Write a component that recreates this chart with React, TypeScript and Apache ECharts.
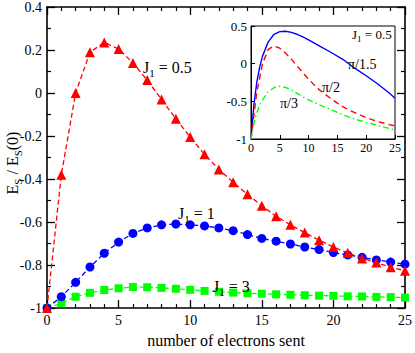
import React, { useEffect, useRef } from 'react';
import * as echarts from 'echarts';

// Main panel: E_S / E_S(0) vs number of electrons sent
const electrons = [0, 1, 2, 3, 4, 5, 6, 7, 8, 9, 10, 11, 12, 13, 14, 15, 16, 17, 18, 19, 20, 21, 22, 23, 24, 25];
const j05 = [-1, -0.38, 0.0, 0.19, 0.235, 0.205, 0.14, 0.06, -0.03, -0.12, -0.205, -0.285, -0.355, -0.415, -0.471, -0.524, -0.573, -0.613, -0.649, -0.684, -0.716, -0.743, -0.769, -0.788, -0.81, -0.826];
const j1 = [-1, -0.947, -0.88, -0.809, -0.745, -0.693, -0.653, -0.627, -0.613, -0.609, -0.613, -0.618, -0.627, -0.64, -0.658, -0.676, -0.689, -0.702, -0.716, -0.728, -0.742, -0.753, -0.764, -0.776, -0.786, -0.796];
const j3 = [-1, -0.978, -0.947, -0.929, -0.916, -0.908, -0.902, -0.903, -0.906, -0.91, -0.915, -0.92, -0.924, -0.928, -0.931, -0.933, -0.936, -0.938, -0.94, -0.942, -0.943, -0.945, -0.946, -0.948, -0.949, -0.951];

// Inset: J1 = 0.5 for several angles
const insetX = [0, 0.5, 1, 1.5, 2, 3, 4, 5, 6, 7, 8, 9, 10, 12, 14, 16, 18, 20, 22, 24, 25];
const pi15 = [-1, -0.55, -0.25, -0.05, 0.1, 0.29, 0.39, 0.425, 0.43, 0.415, 0.39, 0.355, 0.315, 0.23, 0.145, 0.055, -0.06, -0.16, -0.27, -0.39, -0.46];
const pi3 = [-1, -0.8, -0.65, -0.55, -0.48, -0.37, -0.32, -0.3, -0.315, -0.35, -0.395, -0.44, -0.48, -0.55, -0.615, -0.68, -0.735, -0.78, -0.82, -0.86, -0.88];

const mainXTicks = [0, 5, 10, 15, 20, 25];
const mainYTicks = [-1, -0.8, -0.6, -0.4, -0.2, 0, 0.2, 0.4];

const FONT = 'Liberation Serif';
const RED = '#ff0000';
const BLUE = '#0000ff';
const GREEN = '#00ff00';

const pairs = (xs: number[], ys: number[]) => xs.map((x, i) => [x, ys[i]]);
const fmt = (v: number) => String(Math.round(v * 10) / 10);

const richText = (text: string, size: number) => ({
  text,
  fontFamily: FONT,
  fontSize: size,
  fill: '#000',
  verticalAlign: 'middle' as const,
  rich: {
    a: { fontFamily: FONT, fontSize: size, fill: '#000', lineHeight: size + 6, verticalAlign: 'middle' },
    s: { fontFamily: FONT, fontSize: Math.round(size * 0.7), fill: '#000', lineHeight: size + 6, verticalAlign: 'bottom' },
  },
});

export default function App() {
  const ref = useRef<HTMLDivElement>(null);
  useEffect(() => {
    if (!ref.current) return;
    const chart = echarts.init(ref.current, undefined, { renderer: 'svg' });
    const axisCommon = {
      type: 'value' as const,
      axisLine: { show: true, onZero: false, lineStyle: { color: '#000', width: 1.6 } },
      splitLine: { show: false },
    };
    const mainX = {
      ...axisCommon,
      min: 0, max: 25, interval: 5,
      axisTick: { inside: true, length: 8, lineStyle: { color: '#000', width: 1.3 } },
      minorTick: { show: true, splitNumber: 5, length: 4, lineStyle: { color: '#000', width: 1.2 } },
    };
    const mainY = {
      ...axisCommon,
      min: -1, max: 0.4, interval: 0.2,
      axisTick: { inside: true, length: 8, lineStyle: { color: '#000', width: 1.3 } },
      minorTick: { show: true, splitNumber: 2, length: 4, lineStyle: { color: '#000', width: 1.2 } },
    };
    const textStyle = (size: number) => ({ fill: '#000', fontFamily: FONT, fontSize: size, verticalAlign: 'middle' as const });
    chart.setOption({
      animation: false,
      backgroundColor: '#fff',
      grid: [
        { left: 47, top: 6, right: 8, bottom: 32, containLabel: false },
        { left: 251, top: 26, width: 144, height: 113, show: true, backgroundColor: '#fff', borderColor: '#000', borderWidth: 1, z: 5 },
      ],
      xAxis: [
        {
          ...mainX, gridIndex: 0, position: 'bottom',
          axisLabel: { color: '#000', fontFamily: FONT, fontSize: 14, margin: 5, formatter: (v: number) => (mainXTicks.includes(v) ? String(v) : '') },
          name: 'number of electrons sent', nameLocation: 'middle', nameGap: 18,
          nameTextStyle: { color: '#000', fontFamily: FONT, fontSize: 16 },
        },
        { ...mainX, gridIndex: 0, position: 'top', axisLabel: { show: false } },
        {
          type: 'value', gridIndex: 1, min: 0, max: 25, interval: 5, z: 6,
          axisLine: { show: true, onZero: false, lineStyle: { color: '#000', width: 1 } },
          splitLine: { show: false },
          axisTick: { inside: true, length: 4, lineStyle: { color: '#000' } },
          axisLabel: { color: '#000', fontFamily: FONT, fontSize: 12, margin: 3 },
        },
      ],
      yAxis: [
        {
          ...mainY, gridIndex: 0, position: 'left',
          axisLabel: { color: '#000', fontFamily: FONT, fontSize: 14, margin: 5, formatter: (v: number) => (mainYTicks.some((t) => Math.abs(t - v) < 1e-6) ? fmt(v) : '') },
        },
        { ...mainY, gridIndex: 0, position: 'right', axisLabel: { show: false } },
        {
          type: 'value', gridIndex: 1, min: -1, max: 0.5, interval: 0.5, z: 6,
          axisLine: { show: true, onZero: false, lineStyle: { color: '#000', width: 1 } },
          splitLine: { show: false },
          axisTick: { inside: true, length: 4, lineStyle: { color: '#000' } },
          axisLabel: { color: '#000', fontFamily: FONT, fontSize: 13, margin: 4, formatter: (v: number) => fmt(v) },
        },
      ],
      series: [
        {
          type: 'line', xAxisIndex: 0, yAxisIndex: 0, data: pairs(electrons, j3),
          lineStyle: { color: GREEN, width: 1.3, type: [5, 3] }, itemStyle: { color: GREEN },
          symbol: 'rect', symbolSize: 8, z: 3,
        },
        {
          type: 'line', xAxisIndex: 0, yAxisIndex: 0, data: pairs(electrons, j1),
          lineStyle: { color: BLUE, width: 1.3, type: [5, 3] }, itemStyle: { color: BLUE },
          symbol: 'circle', symbolSize: 9, z: 4,
        },
        {
          type: 'line', xAxisIndex: 0, yAxisIndex: 0, data: pairs(electrons, j05),
          lineStyle: { color: RED, width: 1.3, type: [5, 3] }, itemStyle: { color: RED },
          symbol: 'triangle', symbolSize: 10, z: 5,
        },
        {
          type: 'line', xAxisIndex: 2, yAxisIndex: 2, data: pairs(insetX, pi15), showSymbol: false,
          lineStyle: { color: BLUE, width: 1.4, type: 'solid' }, z: 8,
        },
        {
          type: 'line', xAxisIndex: 2, yAxisIndex: 2, data: pairs(electrons, j05), showSymbol: false,
          lineStyle: { color: RED, width: 1.4, type: [6, 4] }, z: 8,
        },
        {
          type: 'line', xAxisIndex: 2, yAxisIndex: 2, data: pairs(insetX, pi3), showSymbol: false,
          lineStyle: { color: GREEN, width: 1.4, type: [6, 3, 1.5, 3] }, z: 8,
        },
      ],
      graphic: [
        {
          type: 'text', x: 12, y: 163, rotation: Math.PI / 2, z: 10,
          style: { ...richText('{a|E}{s|S}{a| / E}{s|S}{a|(0)}', 16), align: 'center' },
        },
        { type: 'text', x: 143, y: 67, z: 10, style: richText('{a|J}{s|1}{a| = 0.5}', 16) },
        { type: 'text', x: 178, y: 213, z: 10, style: richText('{a|J}{s|1}{a| = 1}', 16) },
        { type: 'text', x: 213, y: 286, z: 10, style: richText('{a|J}{s|1}{a| = 3}', 16) },
        { type: 'text', x: 352, y: 34, z: 10, style: richText('{a|J}{s|1}{a| = 0.5}', 13) },
        { type: 'text', x: 348, y: 64, z: 10, style: { text: 'π/1.5', ...textStyle(14) } },
        { type: 'text', x: 322, y: 87, z: 10, style: { text: 'π/2', ...textStyle(14) } },
        { type: 'text', x: 280, y: 103, z: 10, style: { text: 'π/3', ...textStyle(14) } },
      ],
    });
    return () => chart.dispose();
  }, []);
  return <div ref={ref} style={{ position: 'fixed', left: 0, top: 0, width: 415, height: 353 }} />;
}
